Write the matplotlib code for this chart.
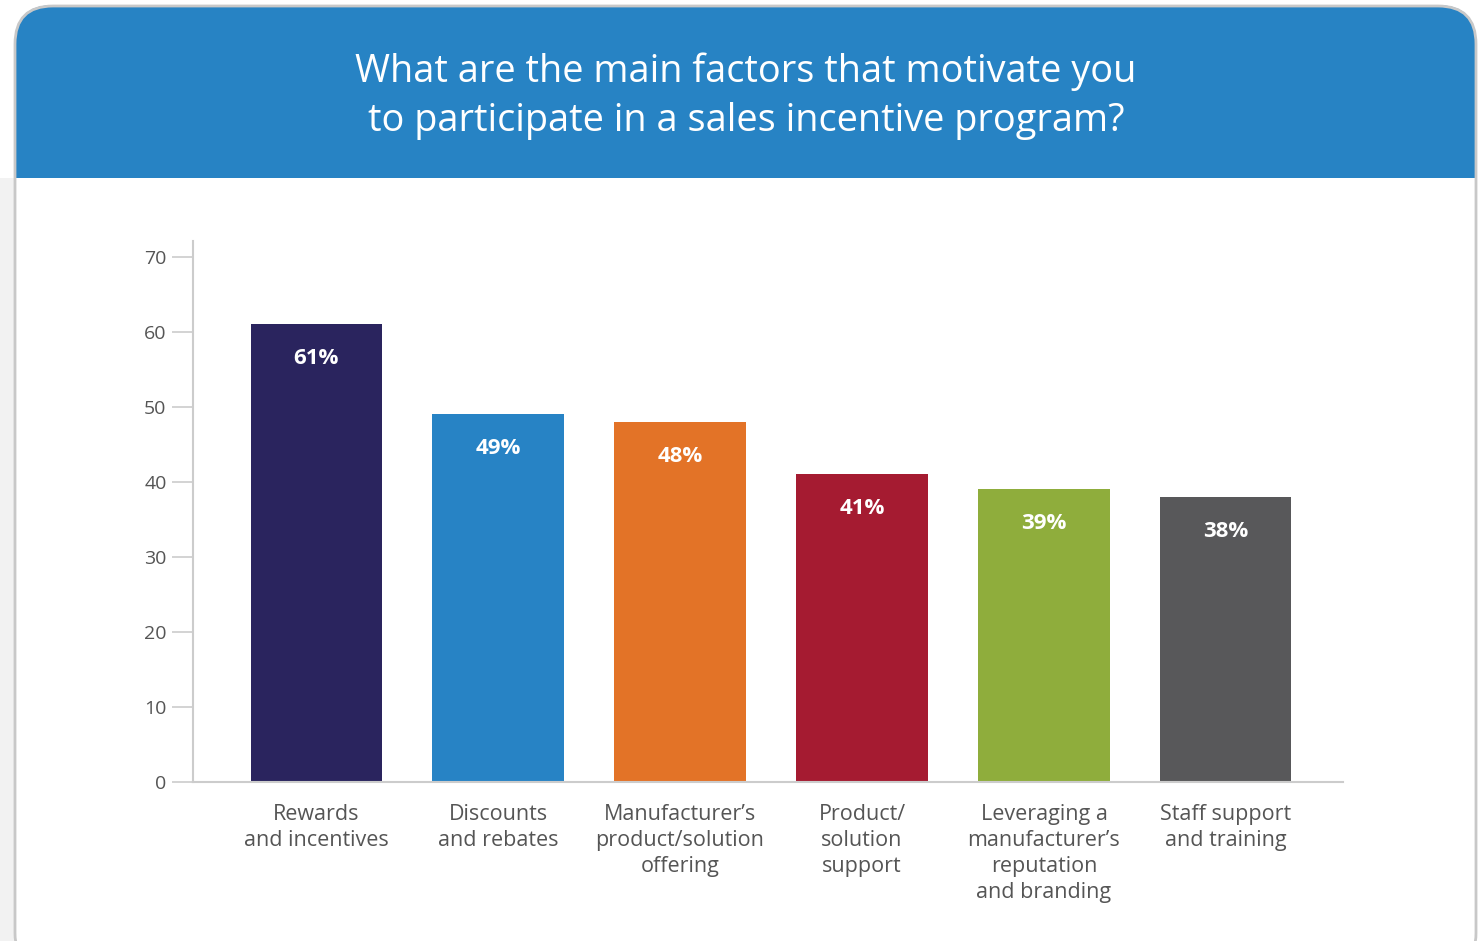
import matplotlib
matplotlib.use("Agg")
import matplotlib.pyplot as plt
from matplotlib.patches import FancyBboxPatch, Rectangle

plt.rcParams['font.family'] = ['Open Sans', 'DejaVu Sans']

categories = [
    "Rewards\nand incentives",
    "Discounts\nand rebates",
    "Manufacturer\u2019s\nproduct/solution\noffering",
    "Product/\nsolution\nsupport",
    "Leveraging a\nmanufacturer\u2019s\nreputation\nand branding",
    "Staff support\nand training",
]
values = [61, 49, 48, 41, 39, 38]
colors = ["#2a245e", "#2783c5", "#e37327", "#a51b31", "#8fad3c", "#58585a"]
yticks = [0, 10, 20, 30, 40, 50, 60, 70]
title = "What are the main factors that motivate you\nto participate in a sales incentive program?"

W, H = 1478, 941
fig = plt.figure(figsize=(W / 100, H / 100), dpi=100)
fig.patch.set_facecolor("white")

# page background strip on the left, below the header
fig.add_artist(Rectangle((0, 0), 16, H - 178, transform=None,
                         facecolor="#f2f2f2", edgecolor="none", zorder=0))

# card body
card = FancyBboxPatch((15, -30), W - 17, H - 5 + 30 - 1,
                      boxstyle="round,pad=0,rounding_size=38",
                      transform=None, facecolor="white", edgecolor="none", zorder=1)
fig.add_artist(card)

# blue header with rounded top corners
header = FancyBboxPatch((15, H - 260), W - 17, 255,
                        boxstyle="round,pad=0,rounding_size=38",
                        transform=None, facecolor="#2783c4", edgecolor="none", zorder=2)
fig.add_artist(header)
fig.add_artist(Rectangle((15, H - 262), W - 17, 84, transform=None,
                         facecolor="white", edgecolor="none", zorder=3))

# card outline
outline = FancyBboxPatch((15, -30), W - 17, H - 5 + 30 - 1,
                         boxstyle="round,pad=0,rounding_size=38",
                         transform=None, facecolor="none", edgecolor="#c8c8c8",
                         linewidth=2, zorder=4)
fig.add_artist(outline)

fig.text(746 / W, 1 - 96 / H, title, color="white", fontsize=27.3,
         ha="center", va="center", linespacing=1.4, fontweight="medium", zorder=5)

# plot area
ax = fig.add_axes([193 / W, 1 - 782 / H, (1343 - 193) / W, (782 - 241) / H])
ax.set_zorder(6)
ax.patch.set_alpha(0)

x = list(range(len(values)))
ax.bar(x, values, width=0.72, color=colors, zorder=2)

for xi, v in zip(x, values):
    ax.text(xi, v - 4.6, f"{v}%", color="white", fontsize=16, fontweight="bold",
            ha="center", va="center")

ax.set_xlim(-0.676, 5.643)
ax.set_ylim(0, 72.1)
ax.set_yticks(yticks)
ax.set_yticklabels([str(t) for t in yticks], fontsize=14, color="#555555")
ax.set_xticks(x)
ax.set_xticklabels(categories, fontsize=15.5, color="#555555", linespacing=1.3, va="top")
ax.tick_params(axis="y", length=15, color="#cccccc", pad=4, width=1.2)
ax.tick_params(axis="x", length=0, pad=16)

for side in ["top", "right"]:
    ax.spines[side].set_visible(False)
for side in ["left", "bottom"]:
    ax.spines[side].set_color("#cccccc")
    ax.spines[side].set_linewidth(1.5)

fig.savefig("out.png", dpi=100)
